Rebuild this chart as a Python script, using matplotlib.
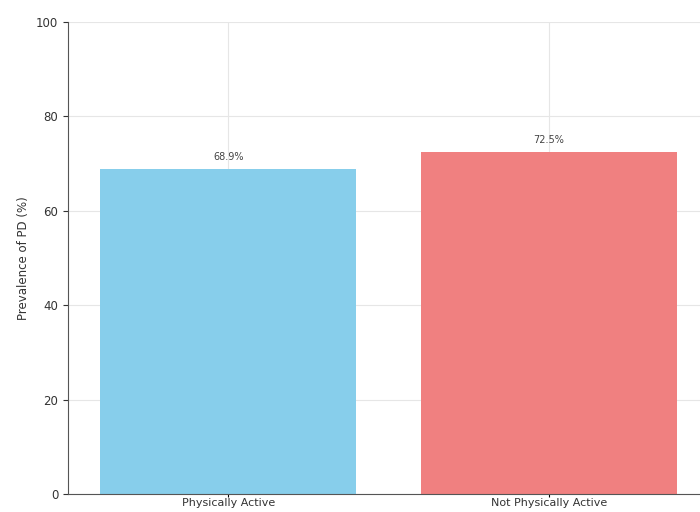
import matplotlib
matplotlib.use("Agg")
import matplotlib.pyplot as plt

groups = ["Physically Active", "Not Physically Active"]
prevalence = [68.9, 72.5]
bar_colors = ["#87CEEB", "#F08080"]

fig = plt.figure(figsize=(7.0, 5.12), dpi=100)
ax = fig.add_axes([68 / 700, 18 / 512, 641 / 700, 472 / 512])

x = list(range(len(groups)))
bars = ax.bar(x, prevalence, width=0.8, color=bar_colors, zorder=2)
for b, v in zip(bars, prevalence):
    ax.text(b.get_x() + b.get_width() / 2, v + 1.5, f"{v:.1f}%",
            ha="center", va="bottom", fontsize=7, color="#444444")

ax.set_xticks(x)
ax.set_xticklabels(groups, fontsize=8, color="#333333")
ax.tick_params(axis="x", length=2, pad=1)
ax.set_xlim(-0.5, 1.5)
ax.set_ylim(0, 100)
ax.set_yticks([0, 20, 40, 60, 80, 100])
ax.tick_params(axis="y", labelsize=8.5, colors="#333333")
ax.set_ylabel("Prevalence of PD (%)", fontsize=8.5, color="#333333")
ax.grid(True, color="#e6e6e6", linewidth=0.8, zorder=0)
for s in ["top", "right"]:
    ax.spines[s].set_visible(False)
for s in ["left", "bottom"]:
    ax.spines[s].set_color("#555555")

fig.savefig("out.png", dpi=100)
